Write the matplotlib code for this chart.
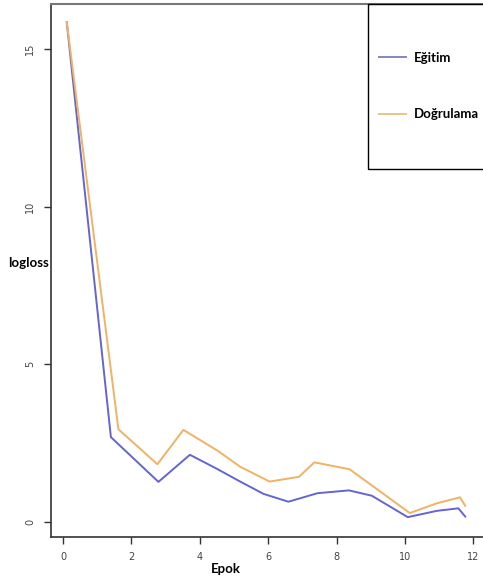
import matplotlib
matplotlib.use("Agg")
import matplotlib.pyplot as plt
from matplotlib.patches import Rectangle

# epoch positions and logloss values
egitim_epok = [0.11, 1.40, 2.79, 3.71, 4.49, 5.18, 5.86, 6.59, 7.44, 8.36,
               9.03, 10.08, 10.93, 11.56, 11.76]
egitim_loss = [15.85, 2.68, 1.26, 2.12, 1.68, 1.27, 0.88, 0.63, 0.90, 0.99,
               0.82, 0.14, 0.34, 0.42, 0.16]

dogrulama_epok = [0.11, 1.62, 2.76, 3.52, 4.52, 5.18, 6.04, 6.90, 7.35, 8.38,
                  10.14, 10.93, 11.61, 11.76]
dogrulama_loss = [15.85, 2.93, 1.82, 2.91, 2.25, 1.74, 1.27, 1.42, 1.88, 1.66,
                  0.27, 0.58, 0.77, 0.50]

x_ticks = [0, 2, 4, 6, 8, 10, 12]
y_ticks = [0, 5, 10, 15]

W, H = 483, 576
fig = plt.figure(figsize=(W / 100, H / 100), dpi=100)
ax = fig.add_axes([50.7 / W, 1 - 537 / H, 1 - 50.7 / W, (537 - 4) / H])

ax.plot(egitim_epok, egitim_loss, color="#6464d2", lw=1.4, label="Eğitim")
ax.plot(dogrulama_epok, dogrulama_loss, color="#f0b264", lw=1.4, label="Doğrulama")

ax.set_xlim(-0.36, 12.28)
ax.set_ylim(-0.49, 16.43)
ax.set_xticks(x_ticks)
ax.set_yticks(y_ticks)
ax.tick_params(direction="out", length=5, width=1, colors="#333333",
               labelsize=7, labelcolor="#444444", pad=6)
for lab in ax.get_yticklabels():
    lab.set_rotation(90)
    lab.set_va("center")

ax.spines["right"].set_visible(False)
ax.spines["top"].set_color("#777777")
ax.spines["top"].set_linewidth(1.5)
for s in ["left", "bottom"]:
    ax.spines[s].set_color("#333333")
    ax.spines[s].set_linewidth(1.2)

fig.text(8 / W, 1 - 263 / H, "logloss", fontsize=9.5, fontweight="bold",
         family="Lato", ha="left", va="center")
fig.text(211 / W, 1 - 569 / H, "Epok", fontsize=9.5, fontweight="bold",
         family="Lato", ha="left", va="center")

# legend box, hanging from the top of the plot frame
fig.patches.append(Rectangle((368 / W, 1 - 169 / H), 130 / W, 165 / H,
                             transform=fig.transFigure, fill=False,
                             edgecolor="black", lw=1))
leg = ax.legend(loc="upper left", bbox_to_anchor=(372 / W, 1 - 45 / H),
                bbox_transform=fig.transFigure, frameon=False,
                prop={"family": "Lato", "weight": "bold", "size": 9.5},
                handlelength=2.1, handletextpad=0.6, labelspacing=3.4,
                borderpad=0)
leg.get_lines()[0].set_color("#8484c8")
leg.get_lines()[1].set_color("#e8c48a")

fig.savefig("out.png", dpi=100)
